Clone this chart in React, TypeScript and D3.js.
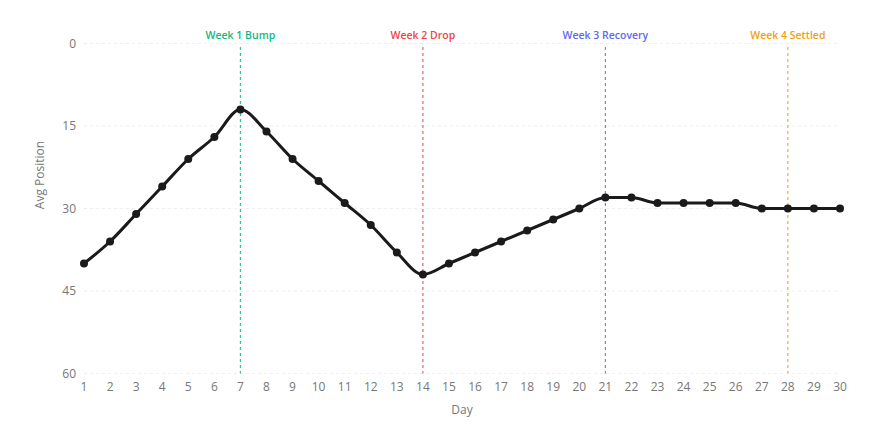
import React from "react";
import * as d3 from "d3";

const days: number[] = Array.from({ length: 30 }, (_, i) => i + 1);
const avgPosition: number[] = [
  40, 36, 31, 26, 21, 17, 12, 16, 21, 25, 29, 33, 38, 42, 40,
  38, 36, 34, 32, 30, 28, 28, 29, 29, 29, 29, 30, 30, 30, 30,
];
const yTicks: number[] = [0, 15, 30, 45, 60];
const markerDays: number[] = [7, 14, 21, 28];
const markerLabels: string[] = ["Week 1 Bump", "Week 2 Drop", "Week 3 Recovery", "Week 4 Settled"];
const markerColors: string[] = ["#10b981", "#ef4444", "#6366f1", "#f59e0b"];

const W = 894;
const H = 448;
const FONT = "'Segoe UI', 'Open Sans', 'Noto Sans', sans-serif";

export default function App() {
  const x = d3.scaleLinear().domain([1, 30]).range([84, 840]);
  const y = d3.scaleLinear().domain([0, 60]).range([43.5, 373.5]);
  const pts = days.map((d, i) => [d, avgPosition[i]] as [number, number]);
  const line = d3
    .line<[number, number]>()
    .x((d) => x(d[0]))
    .y((d) => y(d[1]))
    .curve(d3.curveMonotoneX);

  return (
    <svg
      width={W}
      height={H}
      style={{ position: "absolute", left: 0, top: 0, background: "#fff" }}
      fontFamily={FONT}
    >
      {yTicks.map((t) => (
        <g key={t}>
          <line
            x1={84}
            x2={840}
            y1={y(t)}
            y2={y(t)}
            stroke="#eeeeee"
            strokeWidth={1}
            strokeDasharray="3 3"
          />
          <text
            x={76}
            y={y(t)}
            dy="0.35em"
            textAnchor="end"
            fontSize={12}
            fill="#777"
          >
            {t}
          </text>
        </g>
      ))}
      {days.map((d) => (
        <text
          key={d}
          x={x(d)}
          y={387}
          dy="0.35em"
          textAnchor="middle"
          fontSize={12}
          fill="#777"
        >
          {d}
        </text>
      ))}
      <text x={462} y={410} dy="0.35em" textAnchor="middle" fontSize={12} fill="#777">
        Day
      </text>
      <text
        transform={`translate(40,175) rotate(-90)`}
        dy="0.35em"
        textAnchor="middle"
        fontSize={12}
        fill="#777"
      >
        Avg Position
      </text>
      {markerDays.map((d, i) => (
        <g key={d}>
          <line
            x1={x(d)}
            x2={x(d)}
            y1={47}
            y2={373.5}
            stroke={markerColors[i]}
            strokeOpacity={0.85}
            strokeWidth={1.2}
            strokeDasharray="3 3"
          />
          <text
            x={x(d)}
            y={35}
            dy="0.35em"
            textAnchor="middle"
            fontSize={10.5}
            fontWeight={600}
            fill={markerColors[i]}
          >
            {markerLabels[i]}
          </text>
        </g>
      ))}
      <path d={line(pts) || ""} fill="none" stroke="#1a1a1a" strokeWidth={3} />
      {pts.map((p) => (
        <circle key={p[0]} cx={x(p[0])} cy={y(p[1])} r={4} fill="#1a1a1a" />
      ))}
    </svg>
  );
}
